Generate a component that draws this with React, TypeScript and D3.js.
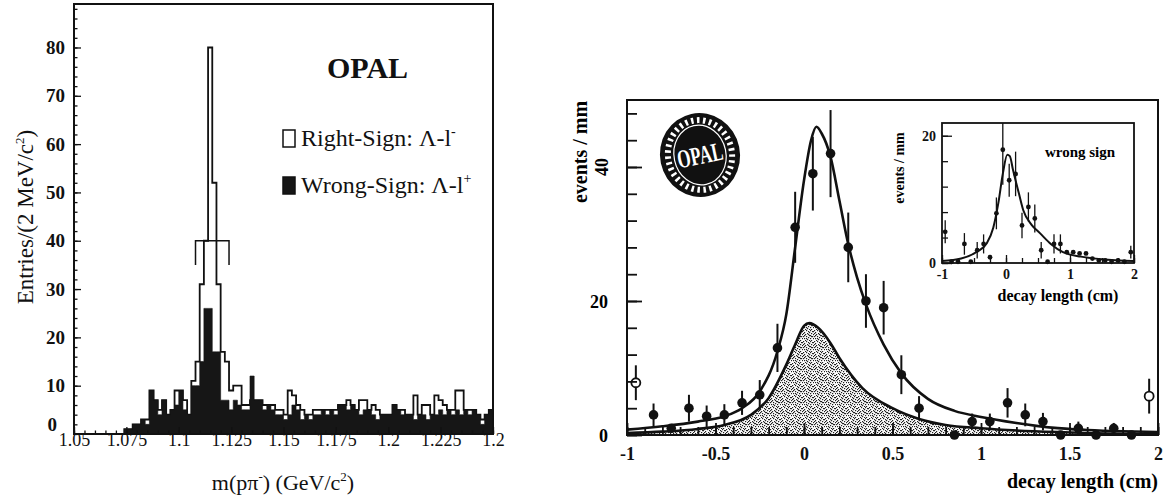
import React, { useEffect, useRef } from 'react';
import * as d3 from 'd3';

const W = 1166;
const H = 499;

// ---- left panel: m(p pi-) histogram, 2 MeV bins starting at 1.05 GeV
const massStart = 1.05;
const massBin = 0.002;
const rightSign = [
  0, 0, 0, 0, 0, 0, 0, 0, 0, 0, 0, 0, 1, 1, 2, 2, 3, 3, 9, 7,
  5, 7, 4, 5, 9, 9, 7, 4, 11, 15, 31, 40, 80, 52, 31, 17, 15, 9, 10, 10,
  6, 6, 7, 7, 7, 6, 6, 6, 5, 5, 4, 9, 8, 6, 5, 4, 4, 5, 5, 5,
  5, 5, 5, 6, 6, 7, 6, 5, 7, 7, 5, 6, 5, 4, 4, 4, 6, 5, 5, 4,
  4, 8, 4, 6, 6, 4, 8, 7, 6, 5, 5, 9, 9, 5, 5, 5, 4, 3, 4, 5,
];
const wrongSign = [
  0, 0, 0, 0, 0, 0, 0, 0, 0, 0, 0, 0, 1, 1, 2, 2, 3, 2, 9, 7,
  4, 7, 4, 5, 6, 9, 5, 4, 10, 10, 15, 26, 26, 17, 17, 7, 7, 5, 7, 6,
  5, 5, 12, 7, 7, 5, 6, 5, 4, 4, 3, 4, 6, 5, 3, 4, 3, 4, 4, 5,
  4, 5, 4, 6, 6, 5, 6, 5, 4, 5, 5, 4, 3, 4, 4, 4, 6, 5, 4, 4,
  4, 3, 4, 4, 3, 4, 4, 5, 4, 5, 4, 5, 4, 5, 4, 5, 4, 2, 4, 5,
];
const massTicks = [1.05, 1.075, 1.1, 1.125, 1.15, 1.175, 1.2, 1.225, 1.25];
const massTickLabels = ['1.05', '1.075', '1.1', '1.125', '1.15', '1.175', '1.2', '1.225', '1.2'];
const entriesTicks = [10, 20, 30, 40, 50, 60, 70, 80];
const signalWindow = [1.108, 1.124];
const windowLevel = 40;
const windowFoot = 35;

// ---- right panel: decay length
const decayX = [-0.85, -0.75, -0.65, -0.55, -0.45, -0.35, -0.25, -0.15, -0.05, 0.05, 0.15, 0.25, 0.35, 0.45, 0.55, 0.65, 0.85, 0.95, 1.05, 1.15, 1.25, 1.35, 1.45, 1.55, 1.65, 1.75, 1.85];
const decayY = [3.0, 1.0, 4.0, 2.8, 3.0, 4.8, 6.0, 13, 31, 39, 42, 28, 20, 19, 9, 4, 0, 2, 2, 4.8, 3, 2, 0, 1, 0, 1, 0];
const decayErr = [1.7, 0, 2.0, 1.6, 1.6, 1.8, 2.2, 3.6, 5.3, 5.5, 6.5, 5.2, 4.0, 4.0, 2.9, 1.8, 0, 1.2, 1.2, 2.2, 1.7, 1.3, 0, 1.0, 0, 0.8, 0];
const openX = [-0.95, 1.95];
const openY = [7.8, 5.8];
const openErr = [2.6, 2.6];
const fitX = [-1, -0.8, -0.6, -0.45, -0.35, -0.25, -0.15, -0.1, -0.05, 0, 0.04, 0.07, 0.1, 0.15, 0.2, 0.25, 0.3, 0.35, 0.45, 0.55, 0.7, 0.85, 1.0, 1.2, 1.4, 1.6, 1.8, 2.0];
const fitY = [0.8, 1.3, 2.0, 2.8, 4.0, 6.5, 12.5, 18, 28, 38, 44, 46, 45, 41.5, 35, 28.5, 23.5, 19.5, 13.5, 9.2, 5.4, 3.6, 2.7, 1.8, 1.1, 0.75, 0.55, 0.45];
const bkgX = [-1, -0.8, -0.6, -0.45, -0.3, -0.2, -0.1, -0.05, 0, 0.03, 0.08, 0.15, 0.2, 0.33, 0.5, 0.65, 0.8, 1.0, 1.3, 1.6, 2.0];
const bkgY = [0.3, 0.5, 0.9, 1.5, 3.0, 5.5, 10.5, 13.5, 16.3, 16.7, 16, 13.7, 11.5, 7, 4, 2.4, 1.5, 1.0, 0.55, 0.3, 0.15];
const decayTicks = [-1, -0.5, 0, 0.5, 1, 1.5, 2];
const decayTickLabels = ['-1', '-0.5', '0', '0.5', '1', '1.5', '2'];

// ---- inset: wrong sign
const insetX = [-0.95, -0.85, -0.75, -0.65, -0.55, -0.45, -0.35, -0.25, -0.15, -0.05, 0.05, 0.15, 0.25, 0.35, 0.45, 0.55, 0.65, 0.75, 0.85, 0.95, 1.05, 1.15, 1.25, 1.35, 1.45, 1.55, 1.65, 1.75, 1.85, 1.95];
const insetY = [4.9, 0.2, 0.2, 3.0, 0.2, 2.0, 3.0, 0.9, 7.8, 17.8, 13, 14, 5.9, 8.8, 7, 2.0, 0.2, 3, 3, 1.7, 1.7, 1.5, 1.5, 0.7, 0.4, 0.4, 0.2, 0.4, 0.2, 1.7];
const insetErr = [1.8, 0, 0, 1.7, 0, 1.3, 1.5, 0, 2.5, 5.5, 2.6, 3.5, 2.0, 2.3, 2.2, 1.3, 0, 1.5, 1.5, 0, 0, 0, 0, 0, 0, 0, 0, 0, 0, 1.0];
const insetFitX = [-1, -0.7, -0.45, -0.3, -0.2, -0.12, -0.05, 0.02, 0.06, 0.11, 0.2, 0.27, 0.4, 0.53, 0.7, 0.89, 1.17, 1.5, 2];
const insetFitY = [0.3, 0.7, 1.8, 3.1, 5.5, 9.4, 14, 17, 16.8, 14.6, 11, 8.3, 6, 4.7, 3, 1.7, 1.0, 0.6, 0.3];

const serif = '"Liberation Serif", "DejaVu Serif", serif';

// irregular dots for the stippled background area (tile 11x11)
const stippleDots = [
  [0, 0], [3, 0], [7, 0], [9, 1], [1, 2], [5, 1], [4, 3], [8, 3], [10, 4], [2, 4],
  [6, 5], [0, 6], [3, 6], [9, 6], [5, 7], [7, 8], [1, 8], [10, 8], [4, 9], [8, 10],
  [2, 10], [6, 10], [0, 3], [6, 2], [10, 1], [3, 8], [8, 6], [5, 4], [1, 5], [7, 5],
];

function draw(svg: any) {
  const defs = svg.append('defs');
  const pat = defs.append('pattern').attr('id', 'stipple').attr('width', 11).attr('height', 11)
    .attr('patternUnits', 'userSpaceOnUse');
  pat.append('rect').attr('width', 11).attr('height', 11).attr('fill', '#fff');
  stippleDots.forEach(([a, b]) =>
    pat.append('rect').attr('x', a).attr('y', b).attr('width', 1.2).attr('height', 1.2).attr('fill', '#222'));

  // ================= LEFT PANEL =================
  const xL = d3.scaleLinear().domain([1.05, 1.25]).range([74, 493]);
  const yL = d3.scaleLinear().domain([0, 89]).range([434, 4]);
  const L = svg.append('g').style('font-family', serif);

  const bins = rightSign.map((v, i) => ({ x: massStart + i * massBin, rs: v, ws: wrongSign[i] }));
  bins.push({ x: massStart + rightSign.length * massBin, rs: rightSign[rightSign.length - 1], ws: wrongSign[wrongSign.length - 1] });

  const rsArea = d3.area<any>().curve(d3.curveStepAfter).x(d => xL(d.x)).y0(yL(0)).y1(d => yL(d.rs));
  const wsArea = d3.area<any>().curve(d3.curveStepAfter).x(d => xL(d.x)).y0(yL(0)).y1(d => yL(d.ws));
  L.append('path').datum(bins).attr('d', rsArea).attr('fill', '#fff').attr('stroke', '#111').attr('stroke-width', 1.8);
  L.append('path').datum(bins).attr('d', wsArea).attr('fill', '#161616').attr('stroke', '#161616').attr('stroke-width', 0.6);

  // signal window bracket
  const br = d3.path();
  br.moveTo(xL(signalWindow[0]), yL(windowFoot));
  br.lineTo(xL(signalWindow[0]), yL(windowLevel));
  br.lineTo(xL(signalWindow[1]), yL(windowLevel));
  br.lineTo(xL(signalWindow[1]), yL(windowFoot));
  L.append('path').attr('d', br.toString()).attr('fill', 'none').attr('stroke', '#111').attr('stroke-width', 1.5);

  // axes
  const yMinor = L.append('g').attr('transform', `translate(${xL(1.05)},0)`)
    .call(d3.axisLeft(yL).tickValues(d3.range(0, 89, 2)).tickSize(-3.5).tickFormat(() => ''));
  const yMajor = L.append('g').attr('transform', `translate(${xL(1.05)},0)`)
    .call(d3.axisLeft(yL).tickValues(entriesTicks).tickSize(-7).tickPadding(9).tickFormat((d: any) => String(d)));
  const xMinor = L.append('g').attr('transform', `translate(0,${yL(0)})`)
    .call(d3.axisBottom(xL).tickValues(d3.range(1.05, 1.2501, 0.005)).tickSize(-3.5).tickFormat(() => ''));
  const xMajor = L.append('g').attr('transform', `translate(0,${yL(0)})`)
    .call(d3.axisBottom(xL).tickValues(massTicks).tickSize(-7).tickPadding(0)
      .tickFormat((d: any, i: number) => massTickLabels[i]));
  [yMinor, yMajor, xMinor, xMajor].forEach(g => {
    g.select('.domain').remove();
    g.selectAll('line').attr('stroke', '#111').attr('stroke-width', 1.3);
    g.selectAll('text').attr('fill', '#111').style('font-family', serif);
  });
  yMajor.selectAll('text').style('font-size', '19px').style('font-weight', 'bold');
  xMajor.selectAll('text').style('font-size', '18px').attr('dy', '0.66em');
  // zero label of the y axis sits low and tucked against the first x label
  L.append('text').attr('x', 57).attr('y', yL(0) - 3).attr('text-anchor', 'end')
    .style('font-size', '19px').style('font-weight', 'bold').attr('fill', '#111').text('0');

  L.append('rect').attr('x', xL(1.05)).attr('y', yL(89)).attr('width', xL(1.25) - xL(1.05))
    .attr('height', yL(0) - yL(89)).attr('fill', 'none').attr('stroke', '#111').attr('stroke-width', 2);

  // titles
  L.append('text').attr('x', 327).attr('y', 78).text('OPAL')
    .style('font-size', '30px').style('font-weight', 'bold').attr('fill', '#111');

  L.append('rect').attr('x', 283).attr('y', 130).attr('width', 12).attr('height', 17)
    .attr('fill', '#fff').attr('stroke', '#111').attr('stroke-width', 1.5);
  L.append('rect').attr('x', 283).attr('y', 177).attr('width', 12).attr('height', 17)
    .attr('fill', '#161616').attr('stroke', '#111').attr('stroke-width', 1.5);

  const leg1 = L.append('text').attr('x', 301).attr('y', 146).style('font-size', '24px').attr('fill', '#111');
  leg1.append('tspan').text('Right-Sign: Λ-l');
  leg1.append('tspan').text('-').attr('dy', -10).style('font-size', '14px');
  const leg2 = L.append('text').attr('x', 301).attr('y', 193).style('font-size', '24px').attr('fill', '#111');
  leg2.append('tspan').text('Wrong-Sign: Λ-l');
  leg2.append('tspan').text('+').attr('dy', -10).style('font-size', '14px');

  const xt = L.append('text').attr('x', 283).attr('y', 490).attr('text-anchor', 'middle')
    .style('font-size', '22px').attr('fill', '#111');
  xt.append('tspan').text('m(pπ');
  xt.append('tspan').text('-').attr('dy', -9).style('font-size', '13px');
  xt.append('tspan').text(') (GeV/c').attr('dy', 9);
  xt.append('tspan').text('2').attr('dy', -9).style('font-size', '13px');
  xt.append('tspan').text(')').attr('dy', 9);

  const yt = L.append('text').attr('transform', 'translate(33,217) rotate(-90)').attr('text-anchor', 'middle')
    .style('font-size', '23px').attr('fill', '#111');
  yt.append('tspan').text('Entries/(2 MeV/c');
  yt.append('tspan').text('2').attr('dy', -9).style('font-size', '13px');
  yt.append('tspan').text(')').attr('dy', 9);

  // ================= RIGHT PANEL =================
  const xR = d3.scaleLinear().domain([-1, 2]).range([627, 1158]);
  const yR = d3.scaleLinear().domain([0, 50]).range([435, 100]);
  const R = svg.append('g').style('font-family', serif).style('font-weight', 'bold');

  const bkg = bkgX.map((x, i) => ({ x, y: bkgY[i] }));
  const fit = fitX.map((x, i) => ({ x, y: fitY[i] }));
  R.append('path').datum(bkg)
    .attr('d', d3.area<any>().curve(d3.curveMonotoneX).x(d => xR(d.x)).y0(yR(0)).y1(d => yR(d.y)))
    .attr('fill', 'url(#stipple)');
  const lineR = d3.line<any>().curve(d3.curveMonotoneX).x(d => xR(d.x)).y(d => yR(d.y));
  R.append('path').datum(bkg).attr('d', lineR).attr('fill', 'none').attr('stroke', '#111').attr('stroke-width', 2.6);
  R.append('path').datum(fit).attr('d', lineR).attr('fill', 'none').attr('stroke', '#111').attr('stroke-width', 2.6);

  const pts = decayX.map((x, i) => ({ x, y: decayY[i], e: decayErr[i] }));
  R.selectAll('.eb').data(pts.filter(p => p.e > 0)).enter().append('line')
    .attr('x1', d => xR(d.x)).attr('x2', d => xR(d.x))
    .attr('y1', d => yR(d.y - d.e)).attr('y2', d => yR(d.y + d.e))
    .attr('stroke', '#111').attr('stroke-width', 2);
  R.selectAll('.pt').data(pts).enter().append('circle')
    .attr('cx', d => xR(d.x)).attr('cy', d => yR(d.y)).attr('r', 4.8).attr('fill', '#111');

  const opens = openX.map((x, i) => ({ x, y: openY[i], e: openErr[i] }));
  R.selectAll('.oeb').data(opens).enter().append('line')
    .attr('x1', d => xR(d.x)).attr('x2', d => xR(d.x))
    .attr('y1', d => yR(d.y - d.e)).attr('y2', d => yR(d.y + d.e))
    .attr('stroke', '#111').attr('stroke-width', 2);
  R.selectAll('.opt').data(opens).enter().append('circle')
    .attr('cx', d => xR(d.x)).attr('cy', d => yR(d.y)).attr('r', 4.5)
    .attr('fill', '#fff').attr('stroke', '#111').attr('stroke-width', 1.8);

  const ryMinor = R.append('g').attr('transform', `translate(${xR(-1)},0)`)
    .call(d3.axisLeft(yR).tickValues(d3.range(0, 50, 4)).tickSize(-10).tickFormat(() => ''));
  const ryMajor = R.append('g').attr('transform', `translate(${xR(-1)},0)`)
    .call(d3.axisLeft(yR).tickValues([0, 20, 40]).tickSize(-15).tickFormat(() => ''));
  const rxMinor = R.append('g').attr('transform', `translate(0,${yR(0)})`)
    .call(d3.axisBottom(xR).tickValues(d3.range(-1, 2.001, 0.1)).tickSize(-8).tickFormat(() => ''));
  const rxMajor = R.append('g').attr('transform', `translate(0,${yR(0)})`)
    .call(d3.axisBottom(xR).tickValues(decayTicks).tickSize(-12).tickPadding(12)
      .tickFormat((d: any, i: number) => decayTickLabels[i]));
  [ryMinor, ryMajor, rxMinor, rxMajor].forEach(g => {
    g.select('.domain').remove();
    g.selectAll('line').attr('stroke', '#111').attr('stroke-width', 1.8);
    g.selectAll('text').attr('fill', '#111').style('font-family', serif).style('font-weight', 'bold').style('font-size', '18px');
  });

  R.append('rect').attr('x', xR(-1)).attr('y', yR(50)).attr('width', xR(2) - xR(-1))
    .attr('height', yR(0) - yR(50)).attr('fill', 'none').attr('stroke', '#111').attr('stroke-width', 2);

  // y tick labels as in the scan
  R.append('text').attr('x', 608).attr('y', yR(0) + 7).attr('text-anchor', 'end').style('font-size', '18px').text('0');
  R.append('text').attr('x', 608).attr('y', yR(20) + 7).attr('text-anchor', 'end').style('font-size', '18px').text('20');
  R.append('text').attr('transform', `translate(608,${yR(40)}) rotate(-90)`).attr('text-anchor', 'middle')
    .style('font-size', '18px').text('40');
  R.append('text').attr('transform', 'translate(587,152) rotate(-90)').attr('text-anchor', 'middle')
    .style('font-size', '20px').text('events / mm');
  R.append('text').attr('x', 1158).attr('y', 488).attr('text-anchor', 'end')
    .style('font-size', '20px').text('decay length (cm)');

  // OPAL logo
  const logo = R.append('g').attr('transform', 'translate(700,155) rotate(-12)');
  logo.append('ellipse').attr('rx', 40).attr('ry', 42).attr('fill', '#111');
  logo.append('ellipse').attr('rx', 32).attr('ry', 35).attr('fill', 'none').attr('stroke', '#fff')
    .attr('stroke-width', 6).attr('stroke-dasharray', '2.5 3.5');
  logo.append('ellipse').attr('rx', 26).attr('ry', 30).attr('fill', '#111').attr('stroke', '#fff').attr('stroke-width', 1.2);
  logo.append('text').attr('y', 9).attr('text-anchor', 'middle').attr('fill', '#fff')
    .attr('textLength', 46).attr('lengthAdjust', 'spacingAndGlyphs')
    .style('font-size', '26px').style('font-family', serif).text('OPAL');

  // ================= INSET =================
  const xI = d3.scaleLinear().domain([-1, 2]).range([942, 1134]);
  const yI = d3.scaleLinear().domain([0, 22]).range([263, 123]);
  const I = svg.append('g').style('font-family', serif).style('font-weight', 'bold');
  I.append('rect').attr('x', xI(-1)).attr('y', yI(22)).attr('width', xI(2) - xI(-1))
    .attr('height', yI(0) - yI(22)).attr('fill', '#fff');

  const ifit = insetFitX.map((x, i) => ({ x, y: insetFitY[i] }));
  const lineI = d3.line<any>().curve(d3.curveMonotoneX).x(d => xI(d.x)).y(d => yI(d.y));
  I.append('path').datum(ifit).attr('d', lineI).attr('fill', 'none').attr('stroke', '#111').attr('stroke-width', 2);

  const ipts = insetX.map((x, i) => ({ x, y: insetY[i], e: insetErr[i] }));
  I.selectAll('.ieb').data(ipts.filter(p => p.e > 0)).enter().append('line')
    .attr('x1', d => xI(d.x)).attr('x2', d => xI(d.x))
    .attr('y1', d => yI(Math.max(0, d.y - d.e))).attr('y2', d => yI(Math.min(22, d.y + d.e)))
    .attr('stroke', '#111').attr('stroke-width', 1.3);
  I.selectAll('.ipt').data(ipts).enter().append('circle')
    .attr('cx', d => xI(d.x)).attr('cy', d => yI(d.y)).attr('r', 2.4).attr('fill', '#111');

  const iyMinor = I.append('g').attr('transform', `translate(${xI(-1)},0)`)
    .call(d3.axisLeft(yI).tickValues(d3.range(0, 22, 4)).tickSize(-6).tickFormat(() => ''));
  const iyMajor = I.append('g').attr('transform', `translate(${xI(-1)},0)`)
    .call(d3.axisLeft(yI).tickValues([0, 20]).tickSize(-10).tickPadding(6).tickFormat((d: any) => String(d)));
  const ixMinor = I.append('g').attr('transform', `translate(0,${yI(0)})`)
    .call(d3.axisBottom(xI).tickValues(d3.range(-1, 2.001, 0.25)).tickSize(-5).tickFormat(() => ''));
  const ixMajor = I.append('g').attr('transform', `translate(0,${yI(0)})`)
    .call(d3.axisBottom(xI).tickValues([-1, 0, 1, 2]).tickSize(-8).tickPadding(6).tickFormat((d: any) => String(d)));
  [iyMinor, iyMajor, ixMinor, ixMajor].forEach(g => {
    g.select('.domain').remove();
    g.selectAll('line').attr('stroke', '#111').attr('stroke-width', 1.3);
    g.selectAll('text').attr('fill', '#111').style('font-family', serif).style('font-weight', 'bold').style('font-size', '14px');
  });
  I.append('rect').attr('x', xI(-1)).attr('y', yI(22)).attr('width', xI(2) - xI(-1))
    .attr('height', yI(0) - yI(22)).attr('fill', 'none').attr('stroke', '#111').attr('stroke-width', 1.8);

  I.append('text').attr('x', 1080).attr('y', 157).attr('text-anchor', 'middle').style('font-size', '15px').text('wrong sign');
  I.append('text').attr('transform', 'translate(904,168) rotate(-90)').attr('text-anchor', 'middle')
    .style('font-size', '14px').text('events / mm');
  I.append('text').attr('x', 1058).attr('y', 301).attr('text-anchor', 'middle').style('font-size', '16px').text('decay length (cm)');
}

export default function App() {
  const ref = useRef<SVGSVGElement>(null);
  useEffect(() => {
    const svg = d3.select(ref.current);
    svg.selectAll('*').remove();
    draw(svg);
  }, []);
  return (
    <div style={{ position: 'absolute', left: 0, top: 0 }}>
      <svg ref={ref} width={W} height={H} style={{ display: 'block', background: '#fff' }} />
    </div>
  );
}
